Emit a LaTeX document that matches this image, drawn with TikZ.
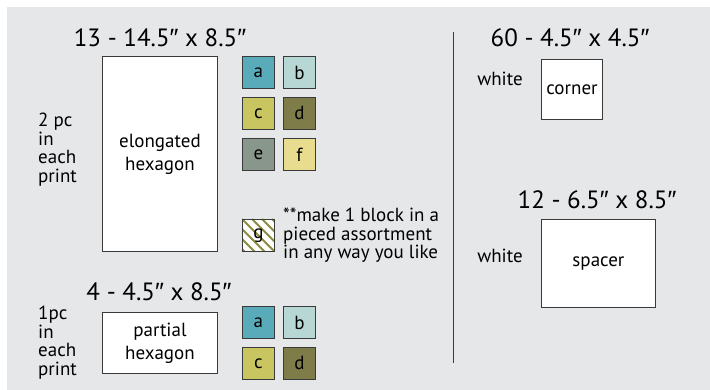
\documentclass[tikz,border=0pt]{standalone}
\usepackage{fontspec}
\usetikzlibrary{calc}
\setmainfont{PT Sans}
\newfontfamily\primefont{Liberation Sans}
\definecolor{bg}{HTML}{E6E7E8}
\definecolor{ca}{HTML}{5AABBA}
\definecolor{cb}{HTML}{B6D7D4}
\definecolor{cc}{HTML}{C9C662}
\definecolor{cd}{HTML}{7E7C48}
\definecolor{ce}{HTML}{88968B}
\definecolor{cf}{HTML}{E8DC8E}
\definecolor{hatch}{HTML}{8C8C40}
\definecolor{edge}{HTML}{3A3A3A}
\newcommand{\inch}{{\primefont ″}}
\begin{document}
\begin{tikzpicture}[x=1pt,y=-1pt,
  blk/.style={draw=edge,line width=0.9pt,fill=white,anchor=north west,inner sep=0pt,align=center,font=\fontsize{19}{23}\selectfont},
  sw/.style={draw=edge,line width=0.9pt,anchor=north west,minimum width=32pt,minimum height=32pt,inner sep=0pt,font=\fontsize{19}{20}\selectfont},
  ttl/.style={font=\fontsize{25}{28}\selectfont,inner sep=0pt},
  lbl/.style={font=\fontsize{19}{18.5}\selectfont,inner sep=0pt,align=left},
]
\useasboundingbox (0,0) rectangle (710,390);
\fill[white] (0,0) rectangle (710,390);
\fill[bg] (7,7) rectangle (710,390);

% left top group
\node[ttl] (t1) at (160,38) {13 - 14.5\inch{} x 8.5\inch};
\node[blk,minimum width=115pt,minimum height=195pt] (elong) at (102,56) {elongated\\hexagon};
\node[lbl,anchor=north west] (n1) at (38,113) {2 pc\\in\\each\\print};
\node[sw,fill=ca] (a1) at (242,56) {a};
\node[sw,fill=cb] (b1) at (283,56) {b};
\node[sw,fill=cc] (c1) at (242,97) {c};
\node[sw,fill=cd] (d1) at (283,97) {d};
\node[sw,fill=ce] (e1) at (242,138) {e};
\node[sw,fill=cf] (f1) at (283,138) {f};

% g square
\node[sw,fill=white] (g1) at (242,219) {};
\begin{scope}
\clip (g1.north west) rectangle (g1.south east);
\foreach \d in {-40,-30,...,40}
  \draw[hatch,line width=1.8pt] ($(g1.north west)+(\d,0)$) -- ++(40,40);
\end{scope}
\draw[edge,line width=0.9pt] (g1.north west) rectangle (g1.south east);
\node[font=\fontsize{19}{20}\selectfont,inner sep=0pt] at (g1.center) {g};
\node[lbl,anchor=north west] (note) at (283,208) {**make 1 block in a\\pieced assortment\\in any way you like};

% left bottom group
\node[ttl] (t2) at (159,292) {4 - 4.5\inch{} x 8.5\inch};
\node[blk,minimum width=115pt,minimum height=61pt] (part) at (102,312) {partial\\hexagon};
\node[lbl,anchor=north west] (n2) at (38,306) {1pc\\in\\each\\print};
\node[sw,fill=ca] (a2) at (242,306) {a};
\node[sw,fill=cb] (b2) at (283,306) {b};
\node[sw,fill=cc] (c2) at (242,347) {c};
\node[sw,fill=cd] (d2) at (283,347) {d};

% divider
\coordinate (v1) at (453,32);
\coordinate (v2) at (453,363);
\draw[edge,line width=0.9pt] (v1) -- (v2);

% right group
\node[ttl] (t3) at (570,38) {60 - 4.5\inch{} x 4.5\inch};
\node[blk,minimum width=61pt,minimum height=60pt] (corner) at (541,59) {corner};
\node[lbl] (w1) at (500,79) {white};
\node[ttl] (t4) at (597,200) {12 - 6.5\inch{} x 8.5\inch};
\node[blk,minimum width=114pt,minimum height=88pt] (spacer) at (541,219) {spacer};
\node[lbl] (w2) at (500,256) {white};
\end{tikzpicture}
\end{document}
